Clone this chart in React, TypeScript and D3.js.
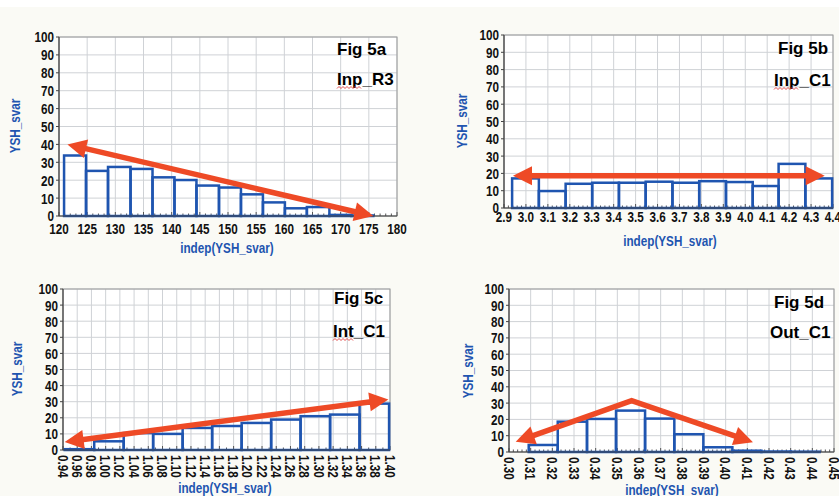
import React from "react";
import * as d3 from "d3";

// values
const yTicks = [0, 10, 20, 30, 40, 50, 60, 70, 80, 90, 100];

// Fig 5a  Inp_R3
const ticksA = [120, 125, 130, 135, 140, 145, 150, 155, 160, 165, 170, 175, 180];
const edgesA = [120.9, 124.8, 128.7, 132.7, 136.6, 140.5, 144.4, 148.4, 152.3, 156.2, 160.1, 164.0, 168.0, 171.9, 175.8];
const countsA = [33.8, 25.2, 27.4, 26.3, 21.6, 20.1, 17.0, 15.9, 12.1, 7.6, 4.3, 5.0, 0.6, 0.3];
const arrowA = [[121.5, 40], [175.8, 0]];

// Fig 5b  Inp_C1
const ticksB = [2.9, 3.0, 3.1, 3.2, 3.3, 3.4, 3.5, 3.6, 3.7, 3.8, 3.9, 4.0, 4.1, 4.2, 4.3, 4.4];
const edgesB = [2.937, 3.059, 3.181, 3.302, 3.424, 3.546, 3.668, 3.79, 3.912, 4.034, 4.152, 4.274, 4.396];
const countsB = [17.1, 9.8, 14.0, 14.6, 14.6, 15.2, 14.6, 15.5, 15.0, 12.7, 25.5, 17.1];
const arrowB = [[2.941, 18.6], [4.362, 18.6]];

// Fig 5c  Int_C1
const ticksC = [0.94, 0.96, 0.98, 1.0, 1.02, 1.04, 1.06, 1.08, 1.1, 1.12, 1.14, 1.16, 1.18, 1.2, 1.22, 1.24, 1.26, 1.28, 1.3, 1.32, 1.34, 1.36, 1.38, 1.4];
const edgesC = [0.9424, 0.9839, 1.0254, 1.0668, 1.1083, 1.1498, 1.1913, 1.2328, 1.2742, 1.3157, 1.3572, 1.3987];
const countsC = [0.5, 5.4, 10.5, 10.0, 13.7, 14.9, 16.8, 18.9, 21.0, 22.0, 28.8];
const arrowC = [[0.9424, 5.0], [1.3977, 31.4]];

// Fig 5d  Out_C1
const ticksD = [0.3, 0.31, 0.32, 0.33, 0.34, 0.35, 0.36, 0.37, 0.38, 0.39, 0.4, 0.41, 0.42, 0.43, 0.44, 0.45];
const edgesD = [0.3091, 0.3225, 0.336, 0.3494, 0.3628, 0.3763, 0.3897, 0.4031, 0.4165, 0.43, 0.4434];
const countsD = [4.3, 18.6, 20.3, 25.4, 20.5, 10.9, 2.9, 0.8, 0.3, 0.2];
const arrowD = [[0.3031, 6.3], [0.3566, 31.5], [0.4126, 6.0]];

const BLUE = "#1f55b0";
const RED = "#ee4a26";
const SANS = "'Liberation Sans', Arial, sans-serif";

const panels = [
  {
    box: { l: 59, r: 397, t: 37, b: 216 }, dom: [120, 180], ticks: ticksA, fmt: d3.format("d"), minor: 5,
    edges: edgesA, counts: countsA, arrow: arrowA, rotate: false, lblGap: 18,
    fig: "Fig 5a", name: "Inp_R3", tx: 337, ty1: 55, tx2: 337, ty2: 85, sq: 24,
    yt: [15, 126], xt: [227, 253],
  },
  {
    box: { l: 504, r: 833, t: 35, b: 208 }, dom: [2.9, 4.4], ticks: ticksB, fmt: d3.format(".1f"), minor: 5,
    edges: edgesB, counts: countsB, arrow: arrowB, rotate: false, lblGap: 14,
    fig: "Fig 5b", name: "Inp_C1", tx: 778, ty1: 54, tx2: 774, ty2: 86, sq: 24,
    yt: [462, 121], xt: [670, 246],
  },
  {
    box: { l: 63, r: 390, t: 289, b: 450 }, dom: [0.94, 1.4], ticks: ticksC, fmt: d3.format(".2f"), minor: 2,
    edges: edgesC, counts: countsC, arrow: arrowC, rotate: true, lblGap: 5,
    fig: "Fig 5c", name: "Int_C1", tx: 334, ty1: 304, tx2: 333, ty2: 337, sq: 20,
    yt: [17, 369], xt: [225, 493],
  },
  {
    box: { l: 509, r: 834, t: 289, b: 452 }, dom: [0.3, 0.45], ticks: ticksD, fmt: d3.format(".2f"), minor: 5,
    edges: edgesD, counts: countsD, arrow: arrowD, rotate: true, lblGap: 5,
    fig: "Fig 5d", name: "Out_C1", tx: 774, ty1: 308, tx2: 770, ty2: 338, sq: 0,
    yt: [468, 371], xt: [672, 495],
  },
];

// condensed bold text: Liberation Sans squeezed horizontally
function NText({ x, y, rot = 0, anchor = "start", size = 15, fill = "#111", dy, children }: any) {
  return (
    <text transform={`translate(${x},${y}) rotate(${rot}) scale(0.78,1)`} textAnchor={anchor} dy={dy}
      fontFamily={SANS} fontWeight="bold" fontSize={size} fill={fill}>
      {children}
    </text>
  );
}

function arrowShapes(pts: number[][]) {
  const len = 19, half = 9.5;
  const p = pts.map((q) => [...q]);
  const heads: string[] = [];
  const head = (tip: number[], from: number[]) => {
    const dx = tip[0] - from[0], dy = tip[1] - from[1];
    const d = Math.hypot(dx, dy), ux = dx / d, uy = dy / d;
    const bx = tip[0] - ux * len, by = tip[1] - uy * len;
    heads.push(`${tip[0]},${tip[1]} ${bx - uy * half},${by + ux * half} ${bx + uy * half},${by - ux * half}`);
    return [tip[0] - ux * len * 0.7, tip[1] - uy * len * 0.7];
  };
  const n = p.length;
  const s = head(pts[0], pts[1]);
  const e = head(pts[n - 1], pts[n - 2]);
  p[0] = s;
  p[n - 1] = e;
  return { line: p.map((q) => q.join(",")).join(" "), heads };
}

function Panel({ cfg }: { cfg: any }) {
  const { box } = cfg;
  const x = d3.scaleLinear().domain(cfg.dom).range([box.l, box.r]);
  const y = d3.scaleLinear().domain([0, 100]).range([box.b, box.t]);
  const step = cfg.ticks[1] - cfg.ticks[0];
  const minors = d3.range(cfg.ticks.length - 1).flatMap((i: number) =>
    d3.range(1, cfg.minor).map((k) => cfg.ticks[i] + (step * k) / cfg.minor)
  );
  const arr = arrowShapes(cfg.arrow.map((d: number[]) => [x(d[0]), y(d[1])]));
  const squiggle = () => {
    if (!cfg.sq) return null;
    const yy = cfg.ty2 + 2.5;
    const pts = d3.range(0, cfg.sq + 0.1, 2).map((dx, i) => `${cfg.tx2 + dx},${yy + (i % 2 ? -1 : 1)}`);
    return <polyline points={pts.join(" ")} fill="none" stroke="#e03a3a" strokeWidth={0.9} />;
  };
  return (
    <g>
      <rect x={box.l} y={box.t} width={box.r - box.l} height={box.b - box.t} fill="#ffffff" />
      {cfg.ticks.map((t: number) => (
        <line key={"gx" + t} x1={x(t)} x2={x(t)} y1={box.t} y2={box.b} stroke="#cfd2d6" strokeWidth={1} />
      ))}
      {yTicks.map((t) => (
        <line key={"gy" + t} x1={box.l} x2={box.r} y1={y(t)} y2={y(t)} stroke="#cfd2d6" strokeWidth={1} />
      ))}
      <rect x={box.l} y={box.t} width={box.r - box.l} height={box.b - box.t} fill="none" stroke="#9a9a9a" strokeWidth={1} />
      {minors.map((t: number, i: number) => (
        <line key={"m" + i} x1={x(t)} x2={x(t)} y1={box.b} y2={box.b - 2.5} stroke="#555" strokeWidth={1} />
      ))}
      {cfg.ticks.map((t: number) => (
        <line key={"mt" + t} x1={x(t)} x2={x(t)} y1={box.b} y2={box.b - 4} stroke="#555" strokeWidth={1} />
      ))}
      {cfg.counts.map((c: number, i: number) => (
        <rect key={"b" + i} x={x(cfg.edges[i])} y={y(c)} width={x(cfg.edges[i + 1]) - x(cfg.edges[i])}
          height={y(0) - y(c)} fill="none" stroke={BLUE} strokeWidth={2.5} />
      ))}
      <line x1={box.l} x2={box.r} y1={box.b} y2={box.b} stroke="#444" strokeWidth={1.2} />
      <line x1={box.l} x2={box.l} y1={box.t} y2={box.b} stroke="#444" strokeWidth={1.2} />
      {yTicks.map((t) => (
        <g key={"yl" + t}>
          <line x1={box.l - 3} x2={box.l} y1={y(t)} y2={y(t)} stroke="#444" />
          <NText x={box.l - 5} y={y(t)} dy="0.36em" anchor="end">{t}</NText>
        </g>
      ))}
      {cfg.ticks.map((t: number) =>
        cfg.rotate ? (
          <NText key={"xl" + t} x={x(t)} y={box.b + cfg.lblGap} rot={90} dy="0.36em">{cfg.fmt(t)}</NText>
        ) : (
          <NText key={"xl" + t} x={x(t)} y={box.b + cfg.lblGap} anchor="middle">{cfg.fmt(t)}</NText>
        )
      )}
      <polyline points={arr.line} fill="none" stroke={RED} strokeWidth={5.5} />
      {arr.heads.map((h, i) => (
        <polygon key={"h" + i} points={h} fill={RED} />
      ))}
      <text x={cfg.tx} y={cfg.ty1} fontFamily={SANS} fontWeight="bold" fontSize={17} fill="#000">{cfg.fig}</text>
      <text x={cfg.tx2} y={cfg.ty2} fontFamily={SANS} fontWeight="bold" fontSize={17} fill="#000">{cfg.name}</text>
      {squiggle()}
      <NText x={cfg.yt[0]} y={cfg.yt[1]} rot={-90} dy="0.36em" anchor="middle" fill={BLUE}>YSH_svar</NText>
      <NText x={cfg.xt[0]} y={cfg.xt[1]} anchor="middle" size={15} fill={BLUE}>indep(YSH_svar)</NText>
    </g>
  );
}

export default function App() {
  return (
    <div style={{ position: "fixed", left: 0, top: 0 }}>
      <svg width={839} height={496} style={{ display: "block" }}>
        <rect width={839} height={496} fill="#ffffff" />
        <rect y={7} width={839} height={489} fill="#fafaf5" />
        {panels.map((p, i) => (
          <Panel key={i} cfg={p} />
        ))}
      </svg>
    </div>
  );
}
